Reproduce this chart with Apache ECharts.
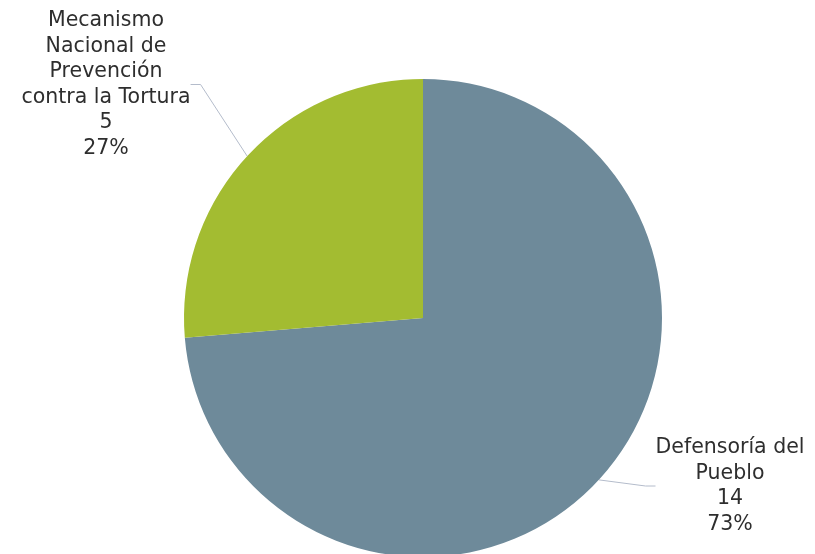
<!DOCTYPE html>
<html>
<head>
<meta charset="utf-8">
<script src="https://cdn.jsdelivr.net/npm/echarts@6/dist/echarts.min.js"></script>
<style>html,body{margin:0;padding:0;background:#fff}#c{width:815px;height:554px}</style>
</head>
<body>
<div id="c"></div>
<script>
const categories = ["Defensoría del\nPueblo", "Mecanismo\nNacional de\nPrevención\ncontra la Tortura"];
const values = [14, 5];
const percentLabels = ["73%", "27%"];
const colors = ["#6e8a9a", "#a3bc31"];

const chart = echarts.init(document.getElementById('c'), null, {renderer: 'canvas'});
const labelPos = [
  {x: 730, y: 435},
  {x: 106, y: 8}
];
chart.setOption({
  animation: false,
  series: [{
    type: 'pie',
    center: [423, 318],
    radius: [0, 239],
    startAngle: 90,
    clockwise: true,
    data: categories.map((c, i) => ({name: c, value: values[i], itemStyle: {color: colors[i]}})),
    label: {
      show: true,
      formatter: p => p.name + '\n' + p.value + '\n' + percentLabels[p.dataIndex],
      fontFamily: 'DejaVu Sans',
      fontSize: 20.5,
      lineHeight: 25.5,
      color: '#2e2e2e',
      align: 'center'
    },
    labelLine: {show: true, length: 30, length2: 10, lineStyle: {color: '#b4bccb', width: 1}},
    labelLayout: function (params) {
      const p = labelPos[params.dataIndex];
      return {x: p.x, y: p.y, align: 'center', verticalAlign: 'top'};
    }
  }]
});
</script>
</body>
</html>
